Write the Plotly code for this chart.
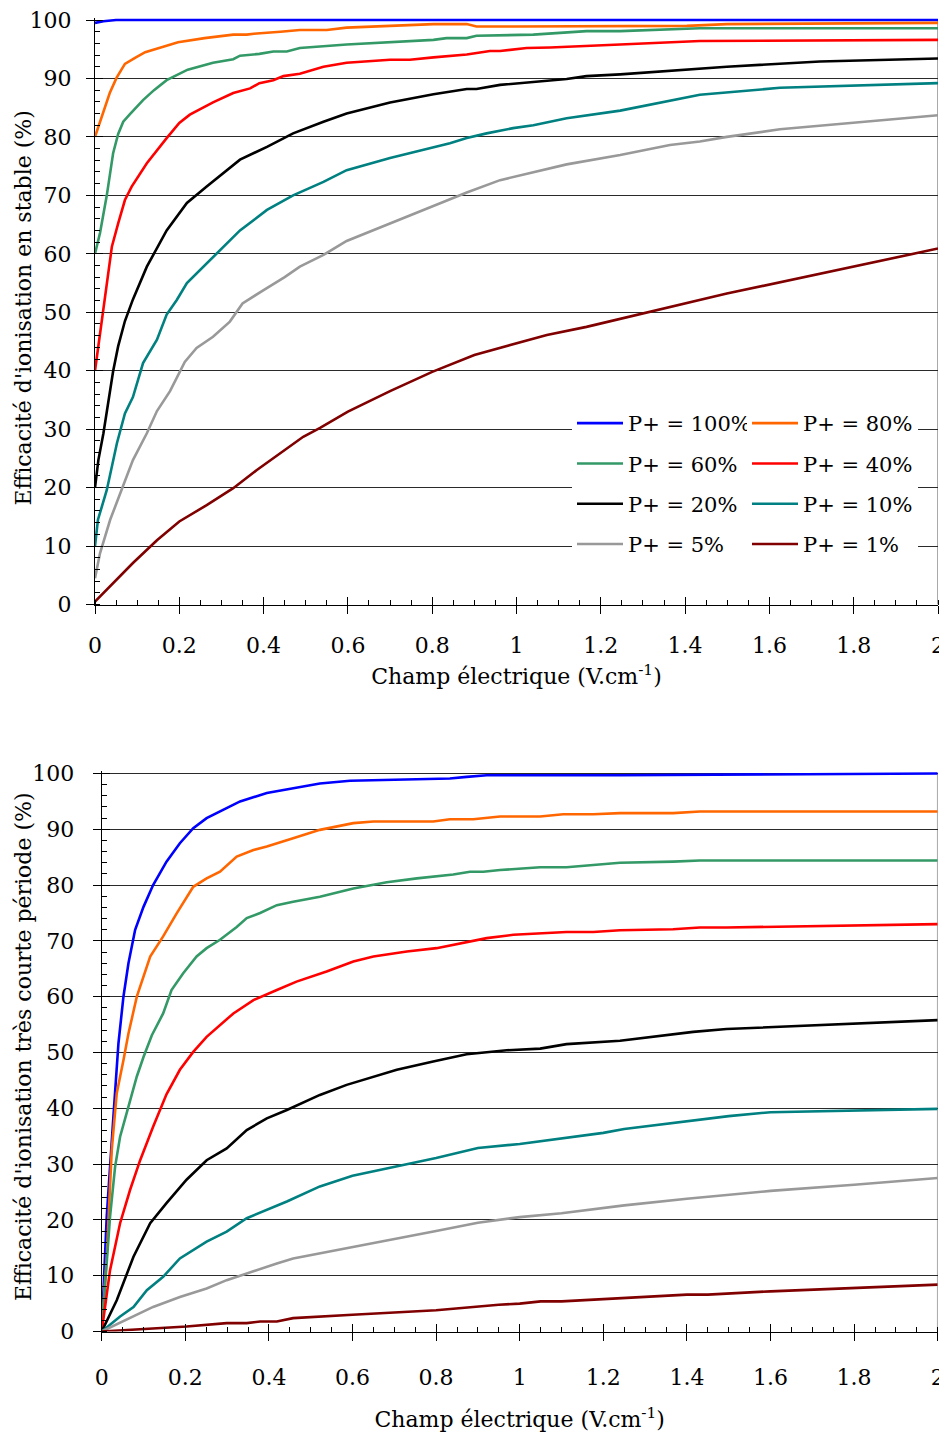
import plotly.graph_objects as go

# ---------------- data: top chart (stable) ----------------
top_x_100 = [0, 0.02, 0.05, 0.1, 2.0]
top_y_100 = [99.5, 99.8, 100, 100, 100]

top_x_80 = [0, 0.02, 0.035, 0.051, 0.071, 0.095, 0.119, 0.16, 0.197, 0.26, 0.328, 0.36, 0.384, 0.44, 0.486, 0.55, 0.597, 0.70, 0.803, 0.882, 0.905, 1.0, 1.246, 1.404, 1.499, 2.0]
top_y_80 = [80, 84.5, 87.5, 90.1, 92.5, 93.5, 94.5, 95.4, 96.2, 96.9, 97.5, 97.5, 97.7, 98.0, 98.3, 98.3, 98.7, 99.0, 99.3, 99.3, 98.9, 98.9, 98.9, 99.0, 99.3, 99.5]

top_x_60 = [0, 0.012, 0.028, 0.043, 0.055, 0.067, 0.083, 0.114, 0.14, 0.17, 0.22, 0.28, 0.328, 0.344, 0.39, 0.423, 0.455, 0.486, 0.597, 0.70, 0.803, 0.834, 0.882, 0.905, 0.961, 1.04, 1.166, 1.246, 1.435, 2.0]
top_y_60 = [60, 63.6, 70, 77.2, 80.5, 82.6, 83.9, 86.3, 88.0, 89.7, 91.5, 92.7, 93.3, 93.9, 94.2, 94.6, 94.6, 95.2, 95.8, 96.2, 96.6, 96.9, 96.9, 97.3, 97.4, 97.5, 98.1, 98.1, 98.6, 98.6]

top_x_40 = [0, 0.012, 0.02, 0.04, 0.055, 0.071, 0.087, 0.123, 0.17, 0.2, 0.225, 0.28, 0.328, 0.368, 0.39, 0.423, 0.447, 0.486, 0.542, 0.597, 0.70, 0.747, 0.803, 0.882, 0.937, 0.961, 1.024, 1.08, 1.246, 1.435, 2.0]
top_y_40 = [40, 46.4, 50.5, 61.2, 65.2, 69.2, 71.5, 75.5, 79.8, 82.4, 83.8, 85.9, 87.5, 88.3, 89.2, 89.7, 90.4, 90.8, 92.0, 92.7, 93.2, 93.2, 93.6, 94.1, 94.7, 94.7, 95.2, 95.3, 95.8, 96.4, 96.6]

top_x_20 = [0, 0.008, 0.02, 0.032, 0.043, 0.055, 0.071, 0.09, 0.123, 0.17, 0.218, 0.265, 0.344, 0.408, 0.47, 0.542, 0.597, 0.70, 0.803, 0.882, 0.905, 0.961, 1.04, 1.119, 1.166, 1.246, 1.499, 1.72, 2.0]
top_y_20 = [20, 24.7, 29.3, 35, 39.9, 44.2, 48.5, 52.2, 57.8, 64, 68.7, 71.5, 76.1, 78.3, 80.6, 82.6, 84.0, 85.9, 87.3, 88.2, 88.2, 88.9, 89.4, 89.9, 90.4, 90.7, 92.0, 92.9, 93.4]

top_x_10 = [0, 0.007, 0.028, 0.052, 0.071, 0.09, 0.114, 0.147, 0.17, 0.194, 0.218, 0.28, 0.344, 0.408, 0.47, 0.542, 0.597, 0.70, 0.803, 0.842, 0.882, 0.929, 0.992, 1.04, 1.119, 1.246, 1.435, 1.499, 1.625, 2.0]
top_y_10 = [10, 14.5, 19.6, 27.6, 32.7, 35.5, 41.3, 45.3, 49.6, 52.1, 55, 59.5, 64, 67.5, 70.0, 72.3, 74.3, 76.4, 78.2, 78.9, 79.8, 80.6, 81.5, 82.0, 83.2, 84.5, 87.2, 87.6, 88.4, 89.2]

top_x_5 = [0, 0.012, 0.036, 0.067, 0.09, 0.123, 0.147, 0.178, 0.213, 0.241, 0.28, 0.32, 0.35, 0.40, 0.45, 0.486, 0.542, 0.597, 0.70, 0.803, 0.882, 0.961, 1.04, 1.119, 1.246, 1.364, 1.435, 1.499, 1.625, 2.0]
top_y_5 = [4.5, 8.8, 14.5, 20.2, 24.7, 29.3, 33.1, 36.5, 41.5, 43.9, 45.8, 48.4, 51.5, 53.8, 56.0, 57.8, 59.8, 62.2, 65.2, 68.1, 70.5, 72.6, 74.0, 75.3, 76.9, 78.6, 79.2, 80.0, 81.3, 83.7]

top_x_1 = [0, 0.09, 0.147, 0.2, 0.265, 0.328, 0.384, 0.439, 0.494, 0.534, 0.6, 0.7, 0.8, 0.9, 1.0, 1.072, 1.166, 1.246, 1.499, 2.0]
top_y_1 = [0.5, 7.1, 11, 14.2, 17, 19.9, 23, 25.9, 28.7, 30.2, 33, 36.5, 39.8, 42.7, 44.6, 46.1, 47.5, 48.9, 53.2, 60.9]

# ---------------- data: bottom chart (very short period) ----------------
bot_x_100 = [0, 0.012, 0.028, 0.04, 0.052, 0.064, 0.08, 0.1, 0.123, 0.155, 0.187, 0.219, 0.251, 0.283, 0.331, 0.395, 0.458, 0.522, 0.594, 0.833, 0.873, 0.921, 1.24, 2.0]
bot_y_100 = [0, 20.6, 38.5, 51.6, 60.0, 66, 72, 76.1, 80, 84.2, 87.5, 90.2, 92, 93.2, 95, 96.5, 97.3, 98.2, 98.7, 99.1, 99.4, 99.7, 99.7, 100]

bot_x_80 = [0, 0.012, 0.024, 0.036, 0.052, 0.064, 0.084, 0.116, 0.147, 0.179, 0.219, 0.251, 0.283, 0.323, 0.363, 0.395, 0.458, 0.522, 0.602, 0.65, 0.793, 0.833, 0.889, 0.913, 0.953, 1.049, 1.104, 1.176, 1.24, 1.367, 1.431, 2.0]
bot_y_80 = [0, 13.4, 32.5, 42.7, 48.6, 53.4, 60, 67.2, 70.8, 74.9, 79.7, 81.2, 82.4, 85.1, 86.3, 86.9, 88.4, 89.9, 91.1, 91.4, 91.4, 91.8, 91.8, 92.0, 92.3, 92.3, 92.7, 92.7, 92.9, 92.9, 93.2, 93.2]

bot_x_60 = [0, 0.02, 0.032, 0.044, 0.064, 0.084, 0.1, 0.12, 0.147, 0.167, 0.195, 0.227, 0.251, 0.283, 0.323, 0.347, 0.379, 0.419, 0.458, 0.522, 0.602, 0.682, 0.754, 0.841, 0.881, 0.913, 0.953, 1.049, 1.112, 1.24, 1.367, 1.431, 2.0]
bot_y_60 = [0, 20.6, 29.5, 34.9, 40.3, 45.7, 49.2, 53.1, 57, 61.2, 64.2, 67.2, 68.7, 70.2, 72.5, 74.1, 75, 76.4, 77, 77.9, 79.4, 80.5, 81.2, 81.9, 82.4, 82.4, 82.7, 83.2, 83.2, 84.0, 84.2, 84.4, 84.4]

bot_x_40 = [0, 0.02, 0.044, 0.068, 0.092, 0.123, 0.155, 0.187, 0.219, 0.251, 0.315, 0.363, 0.419, 0.466, 0.538, 0.602, 0.65, 0.73, 0.801, 0.857, 0.921, 0.985, 1.049, 1.112, 1.176, 1.24, 1.367, 1.431, 1.495, 2.0]
bot_y_40 = [0, 11, 19.4, 25.4, 30.7, 36.7, 42.5, 46.9, 50.1, 52.8, 57, 59.4, 61.2, 62.7, 64.5, 66.3, 67.2, 68.1, 68.7, 69.6, 70.5, 71.1, 71.4, 71.6, 71.6, 71.9, 72.1, 72.4, 72.4, 73.0]

bot_x_20 = [0, 0.036, 0.076, 0.116, 0.155, 0.203, 0.251, 0.299, 0.347, 0.395, 0.443, 0.522, 0.586, 0.706, 0.793, 0.873, 0.969, 1.049, 1.112, 1.176, 1.24, 1.415, 1.495, 2.0]
bot_y_20 = [0, 5.6, 13.4, 19.4, 23, 27.2, 30.7, 32.8, 36.1, 38.2, 39.7, 42.4, 44.2, 46.9, 48.4, 49.7, 50.4, 50.7, 51.5, 51.8, 52.1, 53.7, 54.2, 55.8]

bot_x_10 = [0, 0.044, 0.076, 0.108, 0.147, 0.187, 0.251, 0.299, 0.347, 0.395, 0.443, 0.522, 0.6, 0.8, 0.9, 1.0, 1.2, 1.25, 1.4, 1.5, 1.6, 1.8, 2.0]
bot_y_10 = [0, 2.7, 4.4, 7.4, 9.8, 13.1, 16.1, 17.9, 20.3, 21.8, 23.3, 26.0, 27.9, 31.1, 32.9, 33.6, 35.6, 36.3, 37.7, 38.6, 39.3, 39.6, 39.9]

bot_x_5 = [0, 0.076, 0.123, 0.187, 0.251, 0.299, 0.347, 0.379, 0.419, 0.458, 0.522, 0.6, 0.8, 0.9, 1.0, 1.1, 1.2, 1.25, 1.4, 1.5, 1.6, 1.8, 2.0]
bot_y_5 = [0, 2.7, 4.4, 6.2, 7.7, 9.2, 10.4, 11.3, 12.2, 13.1, 14.0, 15.2, 18, 19.5, 20.5, 21.2, 22.2, 22.6, 23.8, 24.5, 25.2, 26.3, 27.5]

bot_x_1 = [0, 0.139, 0.203, 0.299, 0.347, 0.379, 0.419, 0.458, 0.522, 0.6, 0.8, 0.9, 0.95, 1.0, 1.05, 1.1, 1.2, 1.4, 1.45, 1.6, 2.0]
bot_y_1 = [0, 0.6, 0.9, 1.5, 1.5, 1.8, 1.8, 2.4, 2.7, 3.0, 3.8, 4.5, 4.8, 5.0, 5.4, 5.4, 5.8, 6.6, 6.6, 7.2, 8.4]

series_names = ["P+ = 100%", "P+ = 80%", "P+ = 60%", "P+ = 40%",
                "P+ = 20%", "P+ = 10%", "P+ = 5%", "P+ = 1%"]
series_colors = ["#0000FF", "#FF6600", "#339966", "#FF0000",
                 "#000000", "#008080", "#999999", "#800000"]
x_tick_vals = [0, 0.2, 0.4, 0.6, 0.8, 1, 1.2, 1.4, 1.6, 1.8, 2]
x_tick_text = ["0", "0.2", "0.4", "0.6", "0.8", "1", "1.2", "1.4", "1.6", "1.8", "2"]
y_tick_vals = [0, 10, 20, 30, 40, 50, 60, 70, 80, 90, 100]
x_title = "Champ électrique (V.cm<sup>-1</sup>)"
y_title_top = "Efficacité d'ionisation en stable (%)"
y_title_bot = "Efficacité d'ionisation très courte période (%)"

top_x = [top_x_100, top_x_80, top_x_60, top_x_40, top_x_20, top_x_10, top_x_5, top_x_1]
top_y = [top_y_100, top_y_80, top_y_60, top_y_40, top_y_20, top_y_10, top_y_5, top_y_1]
bot_x = [bot_x_100, bot_x_80, bot_x_60, bot_x_40, bot_x_20, bot_x_10, bot_x_5, bot_x_1]
bot_y = [bot_y_100, bot_y_80, bot_y_60, bot_y_40, bot_y_20, bot_y_10, bot_y_5, bot_y_1]

# ---------------- figure ----------------
# the page body has an 8px margin, so the figure is drawn 8px smaller and
# all target positions (in window pixels) are shifted by 8px
OFF = 8
W, H = 947 - OFF, 1441 - OFF
FONT = "DejaVu Serif"
Y_TOP = 100.4   # a little headroom so the 100% curves are not clipped


def px_x(p):
    return (p - OFF) / W


def px_y(p):
    return 1 - (p - OFF) / H


fig = go.Figure()

# legend assignment: left column 100,60,20,5 ; right column 80,40,10,1
legend_of = ["legend", "legend2", "legend", "legend2", "legend", "legend2", "legend", "legend2"]

for i in range(8):
    fig.add_trace(go.Scatter(
        x=top_x[i], y=top_y[i], mode="lines", name=series_names[i],
        line=dict(color=series_colors[i], width=2.6),
        xaxis="x", yaxis="y", legend=legend_of[i], legendgroup="g%d" % i,
        hoverinfo="skip"))
for i in range(8):
    fig.add_trace(go.Scatter(
        x=bot_x[i], y=bot_y[i], mode="lines", name=series_names[i],
        line=dict(color=series_colors[i], width=2.6),
        xaxis="x2", yaxis="y2", showlegend=False, hoverinfo="skip"))

# empty traces on overlay axes (used only to draw the inner half of major ticks)
fig.add_trace(go.Scatter(x=[None], y=[None], xaxis="x3", yaxis="y3", showlegend=False, hoverinfo="skip"))
fig.add_trace(go.Scatter(x=[None], y=[None], xaxis="x4", yaxis="y4", showlegend=False, hoverinfo="skip"))

# top plot: x 0 -> 95px, 2 -> 938px ; y 0 -> 604.5px, 100 -> 20px
top_unit = (604.5 - 20) / 100
top_dom_x = [px_x(95), px_x(938)]
top_dom_y = [px_y(604.5), px_y(604.5 - Y_TOP * top_unit)]
# bottom plot: x 0 -> 101.7px, 2 -> 937.7px ; y 0 -> 1331.5px, 100 -> 773.5px
bot_unit = (1331.5 - 773.5) / 100
bot_dom_x = [px_x(101.7), px_x(937.7)]
bot_dom_y = [px_y(1331.5), px_y(1331.5 - Y_TOP * bot_unit)]

tickfont = dict(family=FONT, size=22, color="#000")
titlefont = dict(family=FONT, size=22, color="#000")

common_x = dict(range=[0, 2], tickvals=x_tick_vals, ticktext=x_tick_text,
                ticks="outside", ticklen=8, tickwidth=1, tickcolor="#000",
                showline=True, linecolor="#000", linewidth=1, automargin=False,
                showgrid=False, zeroline=False, tickfont=tickfont,
                ticklabeloverflow="allow",
                minor=dict(ticks="inside", ticklen=5, dtick=0.05, tick0=0,
                           tickcolor="#000", tickwidth=1, showgrid=False))
common_y = dict(range=[0, Y_TOP], tickvals=y_tick_vals,
                ticks="outside", ticklen=8, tickwidth=1, tickcolor="#000",
                showline=True, linecolor="#000", linewidth=1, automargin=False,
                showgrid=True, gridcolor="#2a2a2a", gridwidth=1,
                zeroline=False, tickfont=tickfont,
                ticklabeloverflow="allow",
                minor=dict(ticks="inside", ticklen=5, dtick=2, tick0=0,
                           tickcolor="#000", tickwidth=1, showgrid=False))

overlay_x = dict(range=[0, 2], tickvals=x_tick_vals, ticks="inside", ticklen=8,
                 tickwidth=1, tickcolor="#000", showticklabels=False, automargin=False,
                 showgrid=False, zeroline=False, showline=False)
overlay_y = dict(range=[0, Y_TOP], tickvals=y_tick_vals, ticks="inside", ticklen=8,
                 tickwidth=1, tickcolor="#000", showticklabels=False, automargin=False,
                 showgrid=False, zeroline=False, showline=False)

legend_common = dict(xanchor="left", yanchor="top", bgcolor="white", borderwidth=0,
                     tracegroupgap=10, itemwidth=46,
                     font=dict(family=FONT, size=21, color="#000"))

fig.update_layout(
    width=W, height=H,
    margin=dict(l=0, r=0, t=0, b=0, pad=0, autoexpand=False),
    paper_bgcolor="white", plot_bgcolor="white",
    font=dict(family=FONT, size=22, color="#000"),
    xaxis=dict(domain=top_dom_x, anchor="y", ticklabelstandoff=13,
               title=dict(text=x_title, font=titlefont, standoff=11),
               **common_x),
    yaxis=dict(domain=top_dom_y, anchor="x", ticklabelstandoff=10, **common_y),
    xaxis2=dict(domain=bot_dom_x, anchor="y2", ticklabelstandoff=18,
                title=dict(text=x_title, font=titlefont, standoff=22),
                **common_x),
    yaxis2=dict(domain=bot_dom_y, anchor="x2", ticklabelstandoff=14, **common_y),
    xaxis3=dict(overlaying="x", anchor="y3", **overlay_x),
    yaxis3=dict(overlaying="y", anchor="x3", **overlay_y),
    xaxis4=dict(overlaying="x2", anchor="y4", **overlay_x),
    yaxis4=dict(overlaying="y2", anchor="x4", **overlay_y),
    legend=dict(x=px_x(572), y=px_y(403), **legend_common),
    legend2=dict(x=px_x(747), y=px_y(403), **legend_common),
    showlegend=True,
)

# y-axis titles (rotated)
fig.add_annotation(text=y_title_top, textangle=-90, showarrow=False,
                   xref="paper", yref="paper", x=px_x(22.5), y=px_y(308),
                   xanchor="center", yanchor="middle", font=titlefont)
fig.add_annotation(text=y_title_bot, textangle=-90, showarrow=False,
                   xref="paper", yref="paper", x=px_x(23), y=px_y(1047),
                   xanchor="center", yanchor="middle", font=titlefont)

# right-hand grey border of each plot area
fig.add_shape(type="line", xref="x", yref="y", x0=2, x1=2, y0=0, y1=100,
              line=dict(color="#8c8c8c", width=1.5), layer="below")
fig.add_shape(type="line", xref="x2", yref="y2", x0=2, x1=2, y0=0, y1=100,
              line=dict(color="#8c8c8c", width=1.5), layer="below")

fig.write_html("out.html")
